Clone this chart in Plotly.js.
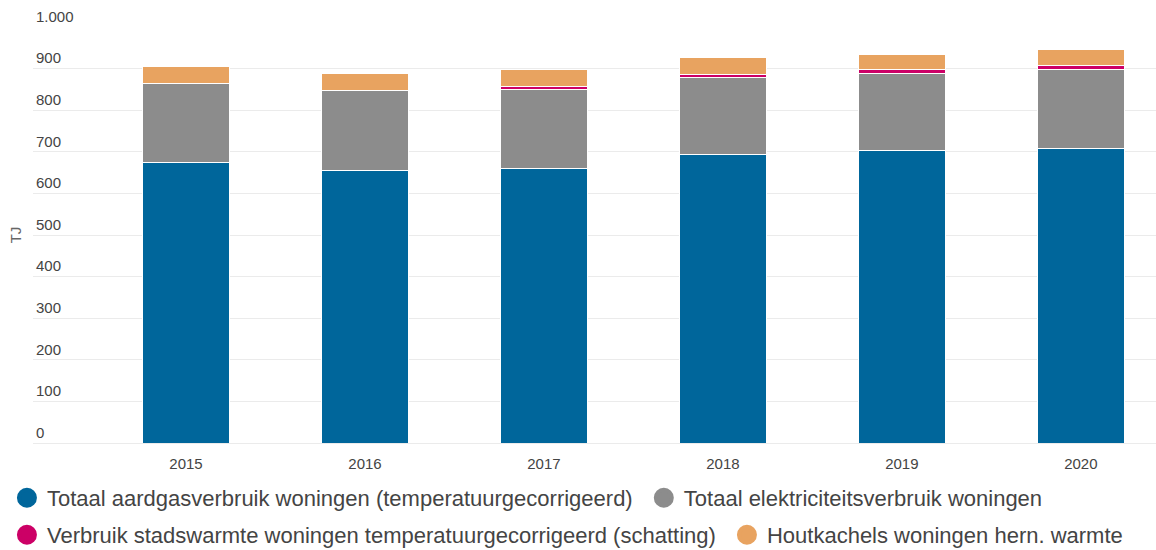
<!DOCTYPE html>
<html>
<head>
<meta charset="utf-8">
<script src="https://cdn.plot.ly/plotly-3.0.1.min.js"></script>
<style>html,body{margin:0;padding:0;background:#fff}#chart{width:1156px;height:550px}</style>
</head>
<body>
<div id="chart"></div>
<script>
var years = ['2015', '2016', '2017', '2018', '2019', '2020'];
var seriesNames = [
  'Totaal aardgasverbruik woningen (temperatuurgecorrigeerd)',
  'Totaal elektriciteitsverbruik woningen',
  'Verbruik stadswarmte woningen temperatuurgecorrigeerd (schatting)',
  'Houtkachels woningen hern. warmte'
];
var aardgas = [674, 656, 659, 693, 702, 707];
var elektriciteit = [189, 192, 191, 186, 187, 192];
var stadswarmte = [0, 0, 6, 8, 8, 8];
var houtkachels = [41, 40, 41, 40, 38, 38];
var colors = ['#00669b', '#8c8c8c', '#cc0066', '#e8a360'];
var legendIds = ['legend', 'legend', 'legend2', 'legend2'];

var values = [aardgas, elektriciteit, stadswarmte, houtkachels];
var traces = [];
values.forEach(function (v, i) {
  traces.push({
    type: 'bar', x: years, y: v, name: seriesNames[i],
    marker: {color: colors[i], line: {color: '#ffffff', width: 1}},
    width: 0.485, showlegend: false,
    hovertemplate: '%{x}: %{y}<extra>' + seriesNames[i] + '</extra>'
  });
});
values.forEach(function (v, i) {
  // a little extra room after the first entry of each legend row
  var label = (i % 2 === 0) ? seriesNames[i] + '\u00a0' : seriesNames[i];
  traces.push({
    type: 'scatter', mode: 'markers', x: [null], y: [null], name: label,
    marker: {color: colors[i], size: 16, symbol: 'circle', line: {color: colors[i], width: 4}},
    showlegend: true, legend: legendIds[i], hoverinfo: 'skip'
  });
});

var legendBase = {
  orientation: 'h', xref: 'container', xanchor: 'left', yref: 'container', yanchor: 'middle',
  font: {size: 22, color: '#444444'}, itemwidth: 30, traceorder: 'normal',
  bgcolor: 'rgba(0,0,0,0)'
};

var layout = {
  width: 1156, height: 550,
  margin: {l: 33, r: 0, t: 27, b: 107, autoexpand: false},
  paper_bgcolor: '#ffffff', plot_bgcolor: '#ffffff',
  barmode: 'stack',
  separators: ',.',
  font: {family: 'Arial, Liberation Sans, sans-serif', color: '#444444', size: 15},
  xaxis: {
    type: 'category', range: [-0.855, 5.42], showgrid: false, zeroline: false,
    showline: false, ticks: '', ticklabelstandoff: 10,
    tickfont: {size: 15, color: '#444444'}, automargin: false
  },
  yaxis: {
    range: [0, 1000], dtick: 100, tickformat: ',d',
    ticklabelposition: 'inside top', ticklabeloverflow: 'allow',
    gridcolor: '#ebebeb', gridwidth: 1, zeroline: true, zerolinecolor: '#ebebeb',
    showline: false, ticks: '', tickfont: {size: 15, color: '#444444'},
    title: {text: 'TJ', font: {size: 15, color: '#666666'}, standoff: 10}, automargin: false
  },
  legend: Object.assign({}, legendBase, {x: 0.006, y: 1 - 498 / 550}),
  legend2: Object.assign({}, legendBase, {x: 0.006, y: 1 - 535 / 550}),
  showlegend: true
};

Plotly.newPlot('chart', traces, layout, {displayModeBar: false, staticPlot: true});
</script>
</body>
</html>
